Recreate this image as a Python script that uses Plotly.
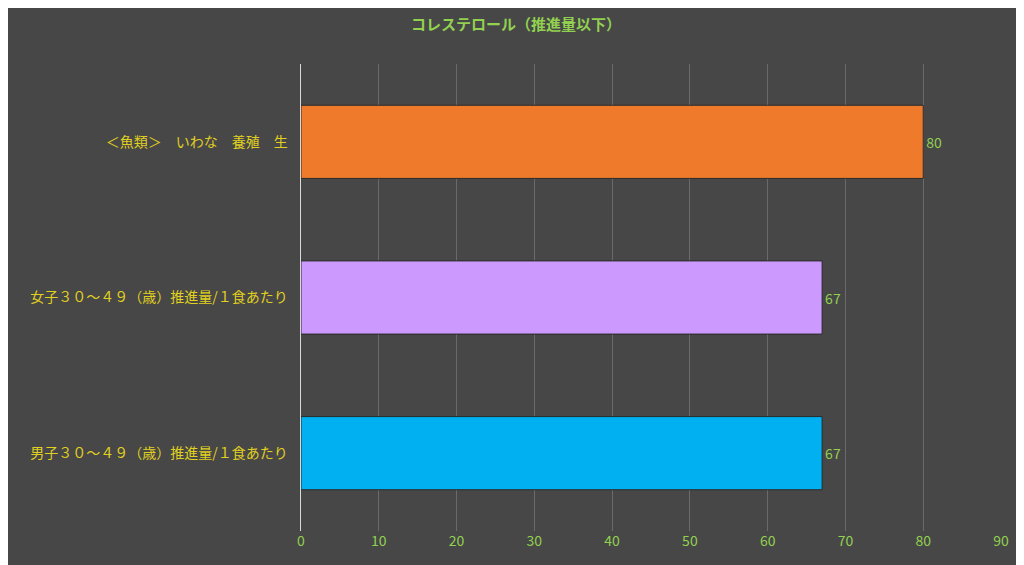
import plotly.graph_objects as go

categories = ["男子３０～４９（歳）推進量/１食あたり", "女子３０～４９（歳）推進量/１食あたり", "＜魚類＞　いわな　養殖　生"]
values = [67, 67, 80]
colors = ["#00b0f0", "#cc99ff", "#f07a2c"]
tick_vals = [0, 10, 20, 30, 40, 50, 60, 70, 80, 90]

fig = go.Figure(go.Bar(
    y=categories, x=values, orientation="h",
    marker=dict(color=colors, line=dict(color="#2a2a2a", width=1)),
    width=0.47,
    text=[str(v) for v in values], textposition="outside",
    textfont=dict(color="#92d050", size=14), cliponaxis=False,
))
fig.update_layout(
    width=1016, height=557,
    margin=dict(l=293, r=23, t=56, b=34),
    paper_bgcolor="#474747", plot_bgcolor="rgba(0,0,0,0)",
    font=dict(family="Noto Sans CJK JP"),
    title=dict(text="<b>コレステロール（推進量以下）</b>", x=0.5, xref="container",
               y=1 - 17 / 557, yanchor="middle",
               font=dict(color="#92d050", size=15)),
    showlegend=False,
    xaxis=dict(range=[0, 90], tickvals=tick_vals, showgrid=True, gridcolor="#6a6a6a",
               zeroline=False, tickfont=dict(color="#92d050", size=14), ticks="", showline=False),
    yaxis=dict(tickfont=dict(color="#e0d020", size=14), showline=True, linecolor="#d9d9d9",
               linewidth=1, ticks="", ticksuffix="   ", showgrid=False),
)
fig.write_html("out.html")
